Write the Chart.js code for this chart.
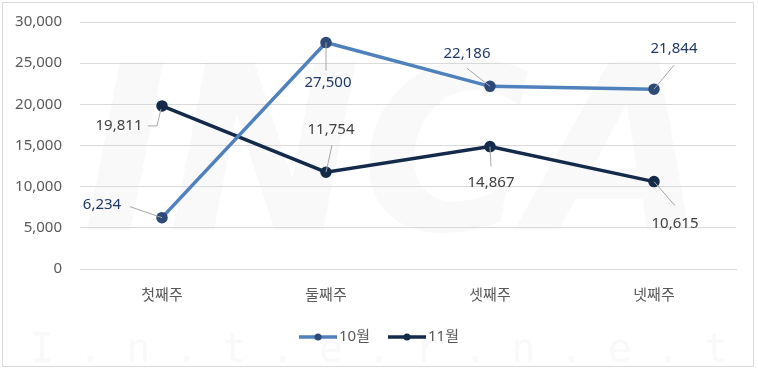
<!DOCTYPE html>
<html>
<head>
<meta charset="utf-8">
<script src="https://cdn.jsdelivr.net/npm/chart.js@4"></script>
<style>
  body { margin: 0; background: #fff; }
  #wrap { position: relative; width: 758px; height: 369px; }
  #frame { position: absolute; left: 2px; top: 2px; width: 750px; height: 363px; border: 1px solid #d9d9d9; pointer-events: none; }
</style>
</head>
<body>
<div id="wrap">
  <canvas id="myLineChart" width="758" height="369"></canvas>
  <div id="frame"></div>
</div>
<script>
const weeks = ['첫째주', '둘째주', '셋째주', '넷째주'];
const octValues = [6234, 27500, 22186, 21844];
const novValues = [19811, 11754, 14867, 10615];
const seriesNames = ['10월', '11월'];
const yTicks = [0, 5000, 10000, 15000, 20000, 25000, 30000];

const FONT = "'Noto Sans', 'Noto Sans CJK KR', sans-serif";

// label offsets (dx, dy from the point) and leader line start
const labelPos = [
  [ { dx: -60, dy: -13, lx: -32, ly: -11 }, { dx: 2, dy: 40, lx: 0, ly: 28 }, { dx: -23, dy: -33, lx: -23, ly: -18 }, { dx: 20, dy: -40, lx: 20, ly: -24 } ],
  [ { dx: -43, dy: 20, elbow: true }, { dx: 5, dy: -42, lx: 6, ly: -27 }, { dx: 1, dy: 36, lx: 1, ly: 20 }, { dx: 21, dy: 42, lx: 21, ly: 24 } ]
];
const labelColors = ['#1f3864', '#404040'];

const watermark = {
  id: 'watermark',
  beforeDraw(chart) {
    const ctx = chart.ctx;
    ctx.save();
    ctx.fillStyle = '#f9f9f9';
    ctx.font = "italic bold 230px 'DejaVu Sans', sans-serif";
    ctx.textAlign = 'center';
    ctx.textBaseline = 'middle';
    ctx.fillText('INCA', 395, 170);
    ctx.font = "40px 'DejaVu Sans Mono', monospace";
    ctx.fillText('I . n . t . e . r . n . e . t', 379, 352);
    ctx.restore();
  }
};

const dataLabels = {
  id: 'dataLabels',
  afterDatasetsDraw(chart) {
    const ctx = chart.ctx;
    ctx.save();
    ctx.font = '15px ' + FONT;
    ctx.textAlign = 'center';
    ctx.textBaseline = 'middle';
    chart.data.datasets.forEach((ds, d) => {
      const meta = chart.getDatasetMeta(d);
      meta.data.forEach((pt, i) => {
        const p = labelPos[d][i];
        ctx.strokeStyle = '#a6a6a6';
        ctx.lineWidth = 1;
        ctx.beginPath();
        if (p.elbow) {
          ctx.moveTo(pt.x + p.dx + 29, pt.y + p.dy);
          ctx.lineTo(pt.x - 5, pt.y + p.dy);
          ctx.lineTo(pt.x - 1, pt.y + 3);
        } else {
          ctx.moveTo(pt.x + p.lx, pt.y + p.ly);
          ctx.lineTo(pt.x, pt.y);
        }
        ctx.stroke();
        ctx.fillStyle = labelColors[d];
        ctx.fillText(ds.data[i].toLocaleString('en-US'), pt.x + p.dx, pt.y + p.dy);
      });
    });
    ctx.restore();
  }
};

const customLegend = {
  id: 'customLegend',
  afterDraw(chart) {
    const ctx = chart.ctx;
    const items = [
      { x: 299, color: '#4f81bd', dot: '#2e4a78', text: seriesNames[0] },
      { x: 388, color: '#132a4a', dot: '#132a4a', text: seriesNames[1] }
    ];
    const y = 337;
    ctx.save();
    ctx.font = '15px ' + FONT;
    ctx.textBaseline = 'middle';
    ctx.textAlign = 'left';
    items.forEach(it => {
      ctx.strokeStyle = it.color;
      ctx.lineWidth = 3.5;
      ctx.beginPath();
      ctx.moveTo(it.x, y);
      ctx.lineTo(it.x + 38, y);
      ctx.stroke();
      ctx.fillStyle = it.dot;
      ctx.beginPath();
      ctx.arc(it.x + 19, y, 3.5, 0, Math.PI * 2);
      ctx.fill();
      ctx.fillStyle = '#595959';
      ctx.fillText(it.text, it.x + 40, y);
    });
    ctx.restore();
  }
};

const lineChart = document.getElementById('myLineChart').getContext('2d');

new Chart(lineChart, {
  type: 'line',
  data: {
    labels: weeks,
    datasets: [{
      label: seriesNames[0],
      data: octValues,
      borderColor: '#4f81bd',
      borderWidth: 3.5,
      pointRadius: 4,
      pointBackgroundColor: '#2e4a78',
      pointBorderColor: '#2e4a78',
      tension: 0
    },
    {
      label: seriesNames[1],
      data: novValues,
      borderColor: '#132a4a',
      borderWidth: 3.5,
      pointRadius: 4,
      pointBackgroundColor: '#132a4a',
      pointBorderColor: '#132a4a',
      tension: 0
    }]
  },
  options: {
    responsive: false,
    animation: false,
    layout: {
      padding: { top: 22, right: 22, left: 0, bottom: 0 }
    },
    scales: {
      y: {
        min: 0,
        max: 30000,
        afterFit(scale) { scale.width = 80; },
        afterBuildTicks(scale) { scale.ticks = yTicks.map(v => ({ value: v })); },
        ticks: {
          padding: 0,
          color: '#595959',
          font: { family: FONT, size: 15 },
          callback: v => v.toLocaleString('en-US')
        },
        grid: { color: '#d9d9d9', drawTicks: true, tickLength: 18, tickColor: 'rgba(0,0,0,0)' },
        border: { display: false }
      },
      x: {
        offset: true,
        afterFit(scale) { scale.height = 100; },
        ticks: {
          padding: 18,
          color: '#595959',
          font: { family: FONT, size: 15 }
        },
        grid: { display: false, drawTicks: false },
        border: { display: true, color: '#d9d9d9' }
      }
    },
    plugins: {
      legend: { display: false },
      tooltip: { enabled: false }
    }
  },
  plugins: [watermark, dataLabels, customLegend]
});
</script>
</body>
</html>
